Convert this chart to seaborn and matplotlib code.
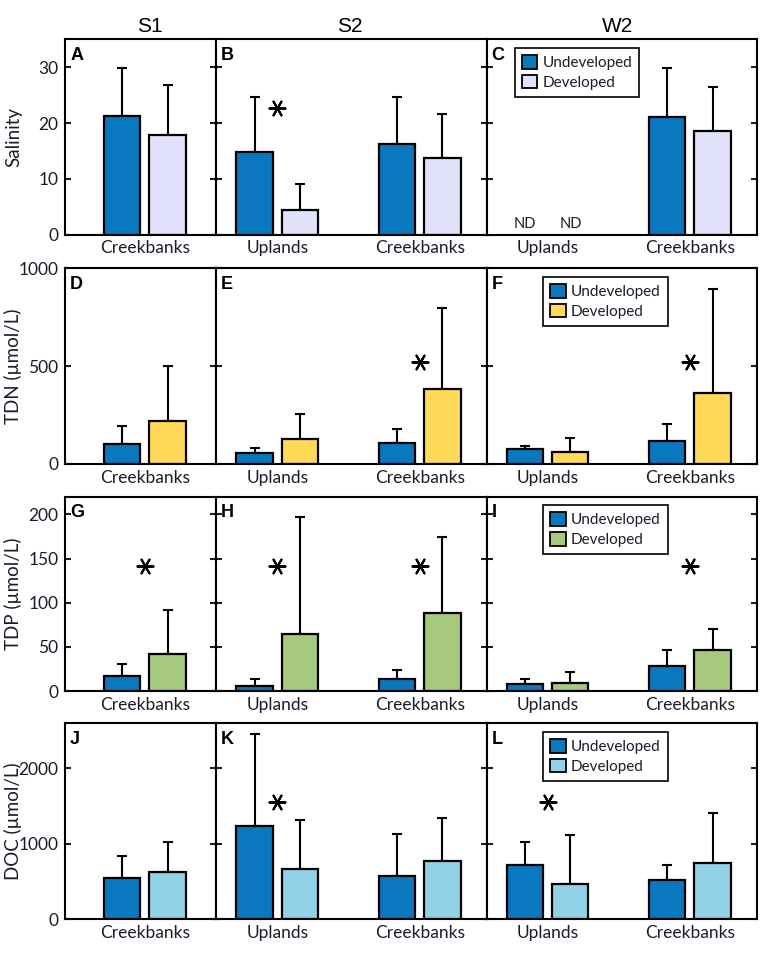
import numpy as np
import pandas as pd
import matplotlib
matplotlib.use('Agg')
import matplotlib.pyplot as plt
from matplotlib.patches import Patch
import seaborn as sns

sns.set_style("ticks")
plt.rcParams['font.family'] = ['Lato', 'DejaVu Sans']
plt.rcParams['text.color'] = '#1c1c2c'
plt.rcParams['axes.labelcolor'] = '#1c1c2c'
plt.rcParams['xtick.color'] = '#1c1c2c'
plt.rcParams['ytick.color'] = '#1c1c2c'

# bar order: S1 creek, S2 uplands, S2 creek, W2 uplands, W2 creek
sites = ['S1', 'S2', 'S2', 'W2', 'W2']
habitats = ['Creekbanks', 'Uplands', 'Creekbanks', 'Uplands', 'Creekbanks']
statuses = ['Undeveloped', 'Developed']

salinity_undev = [21.3, 14.8, 16.3, np.nan, 21.0]
salinity_undev_sd = [8.5, 9.8, 8.3, np.nan, 8.9]
salinity_dev = [17.9, 4.4, 13.8, np.nan, 18.5]
salinity_dev_sd = [9.0, 4.7, 7.9, np.nan, 8.0]

tdn_undev = [104, 56, 109, 75, 116]
tdn_undev_sd = [92, 24, 70, 19, 87]
tdn_dev = [219, 128, 382, 61, 365]
tdn_dev_sd = [281, 130, 413, 71, 527]

tdp_undev = [16.7, 5.7, 13.3, 8.0, 28.8]
tdp_undev_sd = [14.0, 7.6, 10.6, 6.0, 17.8]
tdp_dev = [42.4, 65.1, 88.6, 8.7, 46.2]
tdp_dev_sd = [49.3, 131.9, 85.4, 12.5, 24.3]

doc_undev = [549, 1233, 572, 722, 523]
doc_undev_sd = [293, 1227, 562, 306, 199]
doc_dev = [621, 661, 771, 461, 741]
doc_dev_sd = [407, 660, 568, 656, 669]

# significance stars: (variable, site, habitat, height)
stars = [('Salinity', 'S2', 'Uplands', 22.7),
         ('TDN', 'S2', 'Creekbanks', 519), ('TDN', 'W2', 'Creekbanks', 519),
         ('TDP', 'S1', 'Creekbanks', 142), ('TDP', 'S2', 'Uplands', 142),
         ('TDP', 'S2', 'Creekbanks', 142), ('TDP', 'W2', 'Creekbanks', 142),
         ('DOC', 'S2', 'Uplands', 1560), ('DOC', 'W2', 'Uplands', 1560)]

variables = ['Salinity', 'TDN', 'TDP', 'DOC']
ylabels = ['Salinity', 'TDN (µmol/L)', 'TDP (µmol/L)', 'DOC (µmol/L)']
yticks = [[0, 10, 20, 30], [0, 500, 1000], [0, 50, 100, 150, 200], [0, 1000, 2000]]
ymax = [35, 1000, 220, 2600]
letters = [['A', 'B', 'C'], ['D', 'E', 'F'], ['G', 'H', 'I'], ['J', 'K', 'L']]

blue = '#0A78BF'
dev_colors = ['#E1E1FA', '#FFDA58', '#A6C97E', '#92D2E8']

series = {
    'Salinity': (salinity_undev, salinity_undev_sd, salinity_dev, salinity_dev_sd),
    'TDN': (tdn_undev, tdn_undev_sd, tdn_dev, tdn_dev_sd),
    'TDP': (tdp_undev, tdp_undev_sd, tdp_dev, tdp_dev_sd),
    'DOC': (doc_undev, doc_undev_sd, doc_dev, doc_dev_sd),
}

rows = []
for var, (u, usd, d, dsd) in series.items():
    for i in range(len(sites)):
        rows.append((var, sites[i], habitats[i], 'Undeveloped', u[i], usd[i]))
        rows.append((var, sites[i], habitats[i], 'Developed', d[i], dsd[i]))
df = pd.DataFrame(rows, columns=['var', 'site', 'habitat', 'status', 'value', 'sd'])

W, H = 765, 955
fig = plt.figure(figsize=(W / 100, H / 100), dpi=100)

col_px = [(65.3, 216.0), (216.0, 486.7), (486.7, 756.7)]
row_px = [(39.3, 234.7), (268.3, 464.0), (496.7, 691.0), (723.3, 919.0)]
xlims = [(-0.56, 0.50), (-0.43, 1.47), (-0.43, 1.47)]
legend_x = [0.105, 0.21, 0.21, 0.21]
col_sites = ['S1', 'S2', 'W2']

for r, var in enumerate(variables):
    for c, site in enumerate(col_sites):
        x0, x1 = col_px[c]
        y0, y1 = row_px[r]
        ax = fig.add_axes([x0 / W, 1 - y1 / H, (x1 - x0) / W, (y1 - y0) / H])
        sub = df[(df['var'] == var) & (df['site'] == site)]
        order = list(dict.fromkeys(sub['habitat']))
        sns.barplot(data=sub, x='habitat', y='value', hue='status', order=order,
                    hue_order=statuses, palette=[blue, dev_colors[r]], saturation=1,
                    width=0.636, gap=0.2, edgecolor='black', linewidth=1.6,
                    errorbar=None, legend=False, ax=ax)
        for cont, status in zip(ax.containers, statuses):
            sds = sub[sub['status'] == status].set_index('habitat')['sd']
            for p in cont.patches:
                xc = p.get_x() + p.get_width() / 2
                h = p.get_height()
                if np.isnan(h):
                    continue
                sd = sds[order[int(round(xc))]]
                ax.errorbar(xc, h, yerr=[[0], [sd]], color='black', elinewidth=1.5,
                            capsize=3.6, capthick=1.5, zorder=0.9)
        for (sv, ss, sh, sy) in stars:
            if sv == var and ss == site:
                ax.scatter(order.index(sh), sy, marker=(6, 2, 90), s=130,
                           color='black', linewidths=1.5, zorder=5)
        if var == 'Salinity' and site == 'W2':
            for k, status in enumerate(statuses):
                ax.text(order.index('Uplands') + (k - 0.5) * 0.318, 0.6, 'ND',
                        ha='center', va='bottom', fontsize=10.5)
        ax.set_xlim(*xlims[c])
        ax.set_ylim(0, ymax[r])
        ax.set_yticks(yticks[r])
        ax.set_xlabel('')
        ax.set_ylabel('')
        ax.tick_params(axis='x', length=0, labelsize=12.5, pad=4)
        ax.tick_params(axis='y', direction='in', left=True, right=True, length=4,
                       width=1.5, labelsize=12.5, pad=5, labelleft=(c == 0))
        for sp in ax.spines.values():
            sp.set_visible(True)
            sp.set_linewidth(1.5)
            sp.set_color('black')
        if c == 0:
            ax.set_ylabel(ylabels[r], fontsize=13.5)
            ax.yaxis.set_label_coords((22 - x0) / (x1 - x0), 0.5)
        ax.annotate(letters[r][c], xy=(0, 1), xycoords='axes fraction',
                    xytext=(3.5, -5.5), textcoords='offset points', ha='left', va='top',
                    fontsize=13, fontweight='bold', family=['Liberation Sans', 'DejaVu Sans'],
                    color='black')
        if c == 2:
            handles = [Patch(facecolor=blue, edgecolor='black', linewidth=1.3),
                       Patch(facecolor=dev_colors[r], edgecolor='black', linewidth=1.3)]
            leg = ax.legend(handles, statuses, loc='upper left',
                            bbox_to_anchor=(legend_x[r], 0.955), borderaxespad=0,
                            fancybox=False, framealpha=1, edgecolor='black',
                            fontsize=11, handlelength=1.0, handleheight=1.0,
                            handletextpad=0.35, labelspacing=0.3, borderpad=0.45)
            leg.get_frame().set_linewidth(1.2)

for name, xc in zip(col_sites, [150, 350, 618]):
    fig.text(xc / W, 1 - 26 / H, name, ha='center', va='center', fontsize=15,
             family=['Liberation Sans', 'DejaVu Sans'], color='black')

fig.savefig('out.png', dpi=100)
